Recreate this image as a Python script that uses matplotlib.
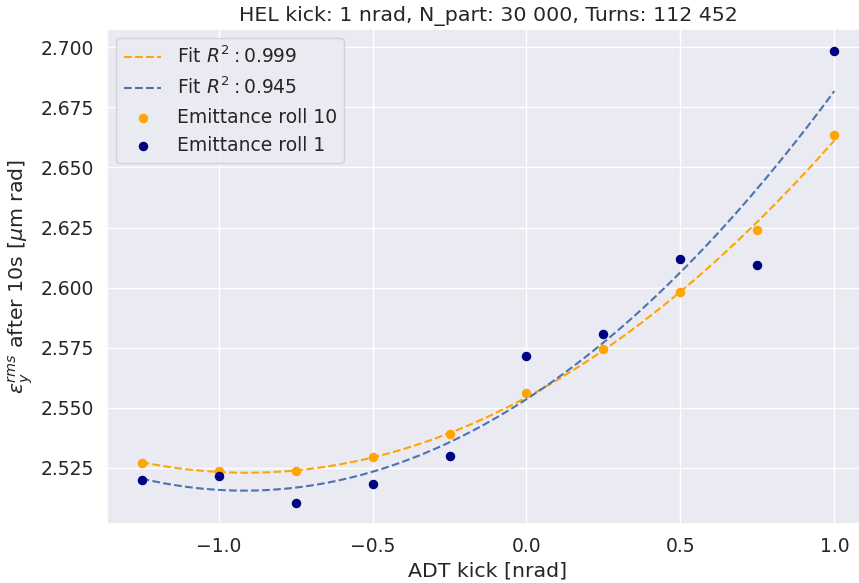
import numpy as np
import matplotlib
matplotlib.use("Agg")
import matplotlib.pyplot as plt
import seaborn as sns

sns.set_theme(style="darkgrid", font_scale=1.23)

# ADT kick values and emittances
adt_kick = [-1.25, -1.0, -0.75, -0.5, -0.25, 0.0, 0.25, 0.5, 0.75, 1.0]
emit_roll10 = [2.5270, 2.5237, 2.5239, 2.5295, 2.5390, 2.5560, 2.5743, 2.5980, 2.6240, 2.6636]
emit_roll1 = [2.5201, 2.5215, 2.5106, 2.5185, 2.5298, 2.5716, 2.5808, 2.6120, 2.6095, 2.6983]
fit_labels = [r"Fit $R^2: 0.999$", r"Fit $R^2: 0.945$"]

x = np.array(adt_kick)
xx = np.linspace(x.min(), x.max(), 200)

fig = plt.figure(figsize=(8.59, 5.83), dpi=100)
# the axes run slightly past the right edge, as in the original (cropped) figure
ax = fig.add_axes([107 / 859, 1 - 524 / 583, (869 - 107) / 859, (524 - 29) / 583])

# quadratic fits
p10 = np.polyfit(x, emit_roll10, 2)
p1 = np.polyfit(x, emit_roll1, 2)
ax.plot(xx, np.polyval(p10, xx), "--", color="orange", lw=1.5, label=fit_labels[0])
ax.plot(xx, np.polyval(p1, xx), "--", color="#4c72b0", lw=1.5, label=fit_labels[1])

ax.scatter(x, emit_roll10, color="orange", s=34, label="Emittance roll 10", zorder=3)
ax.scatter(x, emit_roll1, color="navy", s=34, label="Emittance roll 1", zorder=3)

ax.set_xlim(-1.3625, 1.1125)
ax.set_ylim(2.5017, 2.7076)
ax.set_xticks([-1.0, -0.5, 0.0, 0.5, 1.0])
ax.set_yticks([2.525, 2.55, 2.575, 2.6, 2.625, 2.65, 2.675, 2.7])
ax.yaxis.set_major_formatter(matplotlib.ticker.FormatStrFormatter("%.3f"))

ax.set_xlabel("ADT kick [nrad]")
ax.set_ylabel(r"$\epsilon_y^{rms}$ after 10s [$\mu$m rad]")
ax.set_title("HEL kick: 1 nrad, N_part: 30 000, Turns: 112 452")
ax.legend(loc="upper left")

fig.savefig("out.png", dpi=100)
